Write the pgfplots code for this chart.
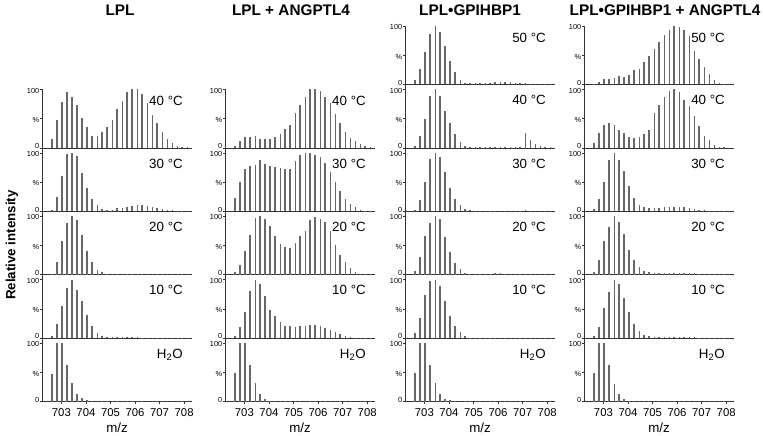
\documentclass[border=0pt]{standalone}
\usepackage{fontspec}
\setmainfont{Liberation Sans}
\usepackage{pgfplots}
\usepackage{pgfplotstable}
\pgfplotsset{compat=1.18}

\definecolor{Peak}{HTML}{676767}
\definecolor{Ax}{HTML}{333333}

% peak heights (%); columns = panel
\pgfplotstableread{
mz     L40 L30 L20 L10 LW  A40 A30 A20 A10 AW  G50 G40 G30 G20 G10 GW  B50 B40 B30 B20 B10 BW
702.62 16  2   2   4   47  3   22  4   3   49  7   3   3   6   9   49  1   8   4   4   3   49
702.82 48  25  21  24  100 11  50  17  19  100 27  21  20  30  34  100 5   25  21  25  19  100
703.03 78  61  58  55  100 18  73  41  45  100 56  50  51  66  73  100 9   40  50  57  52  100
703.23 96  98  89  85  62  19  78  68  81  63  86  88  89  89  97  63  10  43  87  82  79  63
703.44 88  100 100 100 31  20  79  97  100 31  100 100 100 100 100 31  11  39  100 100 100 30
703.64 74  94  93  83  12  16  87  100 93  13  90  89  93  95  90  13  14  30  87  91  93  13
703.84 52  66  68  63  6   16  81  95  72  4   66  64  67  65  63  4   13  25  69  69  69  4
704.05 35  40  40  39  3   15  77  83  48  1   41  43  40  38  38  2   17  18  44  43  44  1
704.25 21  21  21  20  1   18  75  67  37  0.5 21  24  21  20  21  0.5 25  17  23  25  24  0.5
704.46 20  10  8   9   0.5 23  74  53  28  0.5 8   10  10  9   10  0.5 27  18  11  13  12  0.5
704.66 27  4   4   3   0.5 32  73  48  21  0.5 3   3   4   3   3   0.5 39  24  7   6   6   0.5
704.86 35  3   2   2   0.5 40  73  45  20  0.5 2   1   2   2   1   0.5 49  30  6   4   3   0.5
705.07 48  3   2   2   0.5 60  86  55  19  0.5 2   1   1   2   1   0.5 60  59  6   3   2   0.5
705.27 67  5   2   2   0.5 74  97  66  20  0.5 2   1   1   2   1   0.5 73  73  6   3   2   0.5
705.48 80  6   2   2   0.5 88  100 75  21  0.5 3   1   1   2   1   0.5 84  87  7   3   2   0.5
705.68 95  7   2   2   0.5 100 100 93  22  0.5 3   1   1   2   1   0.5 93  98  7   3   2   0.5
705.88 100 9   2   2   0.5 100 97  98  22  0.5 4   1   1   3   1   0.5 100 100 7   3   2   0.5
706.09 100 10  2   2   0.5 97  93  95  20  0.5 4   1   1   3   1   0.5 99  95  7   3   2   0.5
706.29 92  10  2   1   0.5 88  83  90  18  0.5 4   1   1   2   1   0.5 93  82  7   3   2   0.5
706.50 77  9   2   1   0.5 77  67  75  14  0.5 4   1   1   2   1   0.5 83  71  6   3   2   0.5
706.70 57  7   2   1   0.5 58  50  51  11  0.5 3   1   1   2   1   0.5 58  54  4   3   2   0.5
706.90 42  6   2   1   0.5 42  34  34  7   0.5 3   1   1   1   1   0.5 43  37  3   2   1   0.5
707.11 27  4   1   1   0.5 28  21  21  4   0.5 2   26  2   1   1   0.5 30  21  2   1   1   0.5
707.31 15  3   1   1   0.5 17  13  12  2   0.5 1   14  1   1   1   0.5 18  14  1   1   1   0.5
707.52 8   2   1   1   0.5 11  7   5   1   0.5 1   7   1   1   0.5 0.5 7   5   1   0.5 1   0.5
707.72 4   1   1   0.5 0.5 6   3   2   0.5 0.5 0.5 3   1   0.5 0.5 0.5 3   2   0.5 0.5 0.5 0.5
707.92 2   1   0.5 0.5 0.5 3   1   1   0.5 0.5 0.5 2   0.5 0.5 0.5 0.5 1   1   0.5 0.5 0.5 0.5
708.13 1   0.5 0.5 0.5 0.5 1   0.5 0.5 0.5 0.5 0.5 1   0.5 0.5 0.5 0.5 0.5 0.5 0.5 0.5 0.5 0.5
}\spectra

\pgfplotsset{
  panel/.style={
    scale only axis, width=112.5pt, height=47.55pt, anchor=south west,
    xmin=702.21, xmax=708.32, ymin=0, ymax=108.5,
    axis x line*=bottom, axis y line*=left,
    axis line style={Ax, line width=0.6pt},
    xtick=\empty, ytick={50,100}, yticklabels={\%,100},
    extra y ticks={0}, extra y tick labels={0},
    extra y tick style={yticklabel style={yshift=2.2pt}},
    tick style={Ax, line width=0.5pt}, tick align=outside, major tick length=1.5pt,
    yticklabel style={font=\fontsize{5.5}{5.5}\selectfont, inner sep=0.4pt, yshift=-0.9pt},
    /pgf/number format/assume math mode=true,
  },
  toppanel/.style={ymax=100, height=43.8pt},
  bottompanel/.style={
    xtick={703,...,708},
    xticklabel style={font=\fontsize{8.5}{9}\selectfont},
    xlabel={m/z}, xlabel style={font=\fontsize{10}{12}\selectfont, yshift=2pt},
  },
  peak/.style={ycomb, Peak, line width=1.05pt, no markers},
}

% #1 left (px), #2 baseline (px), #3 column, #4 label, #5 label height, #6 options
\newcommand{\panel}[6]{%
\begin{axis}[panel, at={({#1*0.75pt},{-#2*0.75pt})}, #6]
\addplot[peak] table[x=mz, y=#3] {\spectra};
\node[anchor=east, font=\fontsize{10}{12}\selectfont, inner sep=0pt] at (rel axis cs:0.94,#5) {#4};
\end{axis}}

\begin{document}
\begin{tikzpicture}
\useasboundingbox (0pt,0pt) rectangle (572.25pt,-326.25pt);

% LPL
\panel{42}{147.9}{L40}{40 °C}{0.80}{toppanel}
\panel{42}{211.3}{L30}{30 °C}{0.755}{}
\panel{42}{274.7}{L20}{20 °C}{0.755}{}
\panel{42}{338.1}{L10}{10 °C}{0.755}{}
\panel{42}{401.5}{LW}{H\textsubscript{2}O}{0.73}{bottompanel}
% LPL + ANGPTL4
\panel{225}{147.9}{A40}{40 °C}{0.80}{toppanel}
\panel{225}{211.3}{A30}{30 °C}{0.755}{}
\panel{225}{274.7}{A20}{20 °C}{0.755}{}
\panel{225}{338.1}{A10}{10 °C}{0.755}{}
\panel{225}{401.5}{AW}{H\textsubscript{2}O}{0.73}{bottompanel}
% LPL-GPIHBP1
\panel{405}{84.5}{G50}{50 °C}{0.80}{toppanel}
\panel{405}{147.9}{G40}{40 °C}{0.755}{}
\panel{405}{211.3}{G30}{30 °C}{0.755}{}
\panel{405}{274.7}{G20}{20 °C}{0.755}{}
\panel{405}{338.1}{G10}{10 °C}{0.755}{}
\panel{405}{401.5}{GW}{H\textsubscript{2}O}{0.73}{bottompanel}
% LPL-GPIHBP1 + ANGPTL4
\panel{584}{84.5}{B50}{50 °C}{0.80}{toppanel}
\panel{584}{147.9}{B40}{40 °C}{0.755}{}
\panel{584}{211.3}{B30}{30 °C}{0.755}{}
\panel{584}{274.7}{B20}{20 °C}{0.755}{}
\panel{584}{338.1}{B10}{10 °C}{0.755}{}
\panel{584}{401.5}{BW}{H\textsubscript{2}O}{0.73}{bottompanel}

\begin{scope}[x=0.75pt, y=-0.75pt]
\begin{scope}[font=\bfseries\fontsize{11.5}{13}\selectfont]
\node at (120,10) {LPL};
\node at (291,10) {LPL + ANGPTL4};
\node at (470,10) {LPL•GPIHBP1};
\node at (665,10) {LPL•GPIHBP1 + ANGPTL4};
\end{scope}
\node[rotate=90, font=\bfseries\fontsize{10}{12}\selectfont] at (12,245) {Relative intensity};
\end{scope}
\end{tikzpicture}
\end{document}
